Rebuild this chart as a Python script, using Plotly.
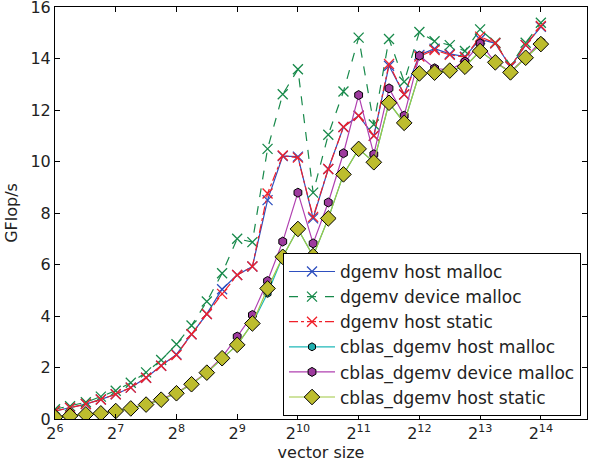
import plotly.graph_objects as go

sizes = [64, 76, 91, 108, 128, 152, 181, 215, 256, 304, 362, 431, 512, 609, 724, 861,
         1024, 1218, 1448, 1722, 2048, 2435, 2896, 3444, 4096, 4871, 5793, 6889, 8192,
         9742, 11585, 13777, 16384]

dgemv_host_malloc = [0.31, 0.44, 0.58, 0.76, 0.96, 1.22, 1.60, 2.07, 2.51, 3.29, 4.08, 5.04,
                     5.59, 5.92, 8.50, 10.21, 10.19, 7.79, 9.71, 11.34, 11.78, 11.00, 13.72,
                     12.60, 14.14, 14.38, 14.18, 14.07, 14.75, 14.59, 13.68, 14.52, 15.23]
dgemv_device_malloc = [0.38, 0.50, 0.65, 0.87, 1.10, 1.41, 1.81, 2.29, 2.90, 3.63, 4.56, 5.66,
                       7.00, 6.87, 10.49, 12.61, 13.58, 8.79, 11.04, 12.72, 14.81, 11.44, 14.76,
                       13.10, 15.03, 14.67, 14.52, 14.29, 15.13, 14.61, 13.73, 14.61, 15.39]
dgemv_host_static = [0.31, 0.44, 0.58, 0.76, 0.96, 1.22, 1.60, 2.07, 2.48, 3.29, 4.08, 4.86,
                     5.59, 5.92, 8.76, 10.23, 10.15, 7.85, 9.71, 11.34, 11.78, 11.00, 13.79,
                     12.60, 14.08, 14.33, 14.14, 14.05, 14.85, 14.59, 13.70, 14.52, 15.26]
cblas_host_malloc = [0.07, 0.12, 0.18, 0.22, 0.31, 0.41, 0.56, 0.75, 1.00, 1.35, 1.80, 2.36,
                     2.88, 3.71, 4.88, 6.30, 7.38, 6.33, 7.79, 9.50, 10.49, 9.97, 12.28,
                     11.50, 13.42, 13.45, 13.53, 13.68, 14.29, 13.85, 13.46, 14.03, 14.56]
cblas_device_malloc = [0.08, 0.13, 0.19, 0.23, 0.32, 0.42, 0.57, 0.77, 1.02, 1.37, 1.82, 2.40,
                       3.20, 4.04, 5.36, 6.89, 8.79, 6.82, 8.41, 10.32, 12.58, 10.28, 12.84,
                       11.78, 14.11, 13.62, 13.55, 13.88, 14.59, 13.85, 13.49, 14.04, 14.65]
cblas_host_static = [0.07, 0.12, 0.18, 0.22, 0.31, 0.41, 0.56, 0.75, 1.00, 1.35, 1.80, 2.36,
                     2.88, 3.71, 5.07, 6.30, 7.38, 6.33, 7.79, 9.50, 10.49, 9.97, 12.28,
                     11.50, 13.42, 13.45, 13.53, 13.68, 14.29, 13.85, 13.46, 14.03, 14.56]

tick_vals = [64, 128, 256, 512, 1024, 2048, 4096, 8192, 16384]
tick_text = ["2<sup>%d</sup>" % e for e in range(6, 15)]
y_ticks = [0, 2, 4, 6, 8, 10, 12, 14, 16]

FONT = "DejaVu Sans"
fig = go.Figure()

def add(name, y, color, dash, symbol, size, fill=None, line_color=None, edge="black", mlw=1):
    if symbol.startswith("x"):
        marker = dict(symbol="x-thin", size=size, line=dict(color=color, width=1.3), color=color)
    else:
        marker = dict(symbol=symbol, size=size, color=fill or color, line=dict(color=edge, width=mlw))
    fig.add_trace(go.Scatter(
        x=sizes, y=y, name=name, mode="lines+markers",
        line=dict(color=line_color or color, width=1.2, dash=dash),
        marker=marker))

add("dgemv host malloc", dgemv_host_malloc, "#2e4fbf", "solid", "x", 10)
add("dgemv device malloc", dgemv_device_malloc, "#17894a", "dash", "x", 10)
add("dgemv host static", dgemv_host_static, "#f0202a", "dashdot", "x", 10)
add("cblas_dgemv host malloc", cblas_host_malloc, "#1fb8b8", "solid", "hexagon", 8, fill="#1fb0b0")
add("cblas_dgemv device malloc", cblas_device_malloc, "#b040b0", "solid", "hexagon", 9, fill="#9e3a9e")
add("cblas_dgemv host static", cblas_host_static, "#9ec43c", "solid", "diamond", 12,
    fill="#bdbd2e", line_color="#a0c840")

axis_common = dict(showline=True, linecolor="black", linewidth=1, mirror="allticks",
                   ticks="inside", ticklen=5, tickcolor="black", showgrid=False,
                   zeroline=False, automargin=False, ticklabeloverflow="allow",
                   tickfont=dict(family=FONT, size=16, color="#222"))

fig.update_xaxes(type="log", range=[1.80618, 4.4432], tickvals=tick_vals, ticktext=tick_text,
                 title=dict(text="vector size", font=dict(family=FONT, size=16, color="#222"),
                            standoff=2),
                 **axis_common)
fig.update_yaxes(range=[0, 16], tickvals=y_ticks,
                 title=dict(text="GFlop/s", font=dict(family=FONT, size=16, color="#222"),
                            standoff=8),
                 **axis_common)

fig.update_layout(
    width=593, height=465,
    margin=dict(l=55, r=6, t=7, b=46),
    plot_bgcolor="white", paper_bgcolor="white",
    font=dict(family=FONT, size=16, color="#222"),
    legend=dict(x=0.4286, y=0.403, xanchor="left", yanchor="top",
                bgcolor="white", bordercolor="black", borderwidth=1,
                font=dict(family=FONT, size=17, color="#222"),
                tracegroupgap=0, itemwidth=46),
)

fig.write_html("out.html", post_script="document.body.style.margin='0';",
               config={"displayModeBar": False})
